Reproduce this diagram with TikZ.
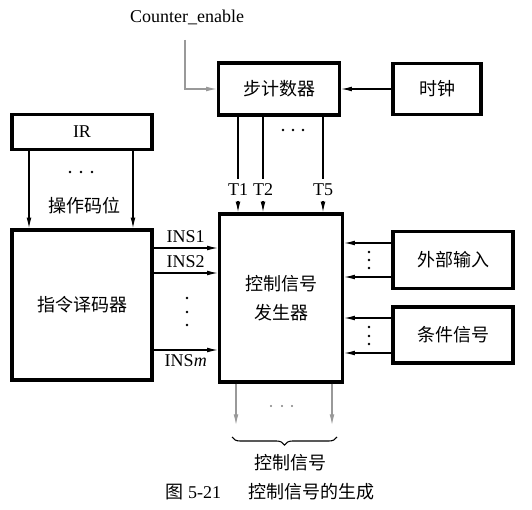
\documentclass[tikz,border=0pt]{standalone}
\usepackage{fontspec}
\setmainfont{Liberation Serif}
\newfontfamily\cjk{Noto Sans CJK SC}
\usetikzlibrary{arrows.meta,decorations.pathreplacing}

\tikzset{
  lat/.style={font=\fontsize{13.5}{16}\selectfont},
  zh/.style={font=\cjk\fontsize{13.5}{16}\selectfont},
  blk/.style={draw, line width=2.6pt, fill=white, zh},
  sig/.style={->, line width=0.8pt},
  dimsig/.style={->, line width=0.8pt, gray!80},
}

\begin{document}
\begin{tikzpicture}[x=0.75pt, y=-0.75pt, >={Latex[length=8pt,width=3.6pt]}]
  \useasboundingbox (0,0) rectangle (532,510);

  % blocks
  \node[blk, minimum width=90.75pt, minimum height=39pt] (cnt) at (279,89) {步计数器};
  \node[blk, minimum width=66pt, minimum height=38.25pt] (clk) at (437,89) {时钟};
  \node[blk, lat, minimum width=105pt, minimum height=26.25pt] (ir) at (82,132) {IR};
  \node[blk, minimum width=105pt, minimum height=112.5pt] (dec) at (82,305) {指令译码器};
  \node[blk, align=center, minimum width=92.25pt, minimum height=126pt] (ctl) at (281,298) {控制信号\\[6pt]发生器};
  \node[blk, minimum width=90pt, minimum height=42.75pt] (ext) at (453,260) {外部输入};
  \node[blk, minimum width=90pt, minimum height=42pt] (cnd) at (453,335) {条件信号};

  % counter enable and clock
  \node[lat] (en) at (187,17) {Counter\_enable};
  \coordinate (enp) at (185,40);
  \draw[dimsig] (enp) |- (cnt.west);
  \draw[sig] (clk) -- (cnt);

  % IR -> decoder
  \coordinate (ira) at (29,0);
  \coordinate (irb) at (133,0);
  \draw[sig] (ir.south -| ira) -- (dec.north -| ira);
  \draw[sig] (ir.south -| irb) -- (dec.north -| irb);
  \foreach \x in {70,81,92} \fill (\x,172) circle (1.1pt);
  \node[zh] (opc) at (84,206) {操作码位};

  % timing signals
  \foreach \x/\t in {238/1, 263/2, 323/5} {
    \node[lat] (t\t) at (\x,190) {T\t};
    \draw[line width=0.8pt] (cnt.south -| t\t) -- (t\t.north);
    \draw[sig] (t\t.south) -- (ctl.north -| t\t);
  }
  \foreach \x in {283,293,303} \fill (\x,130) circle (1.1pt);

  % decoder outputs
  \coordinate (ins1) at (0,248);
  \coordinate (ins2) at (0,273);
  \coordinate (insm) at (0,350);
  \draw[sig] (dec.east |- ins1) -- (ctl.west |- ins1) node[midway, above, lat] (l1) {INS1};
  \draw[sig] (dec.east |- ins2) -- (ctl.west |- ins2) node[midway, above, lat] (l2) {INS2};
  \draw[sig] (dec.east |- insm) -- (ctl.west |- insm) node[midway, below, lat] (lm) {INS\textit{m}};
  \foreach \y in {298,312,325} \fill (187,\y) circle (1.1pt);

  % external inputs and conditions
  \coordinate (e1) at (0,243);
  \coordinate (e2) at (0,277);
  \coordinate (c1) at (0,318);
  \coordinate (c2) at (0,353);
  \foreach \r in {e1,e2} \draw[sig] (ext.west |- \r) -- (ctl.east |- \r);
  \foreach \r in {c1,c2} \draw[sig] (cnd.west |- \r) -- (ctl.east |- \r);
  \foreach \y in {252,260,268} \fill (369,\y) circle (1.1pt);
  \foreach \y in {327,336,344} \fill (369,\y) circle (1.1pt);

  % control outputs
  \coordinate (o1) at (236,425);
  \coordinate (o2) at (332,425);
  \draw[dimsig] (ctl.south -| o1) -- (o1);
  \draw[dimsig] (ctl.south -| o2) -- (o2);
  \foreach \x in {271,282,292} \fill[gray] (\x,406) circle (0.9pt);
  \draw[decorate, decoration={brace, mirror, amplitude=6pt}, line width=0.8pt] (232,437) -- (337,437);
  \node[zh] (outl) at (290,463) {控制信号};

  % caption
  \node[zh] (cap) at (270,492) {图 {\rmfamily 5-21}\hspace{1.5em}控制信号的生成};
\end{tikzpicture}
\end{document}
